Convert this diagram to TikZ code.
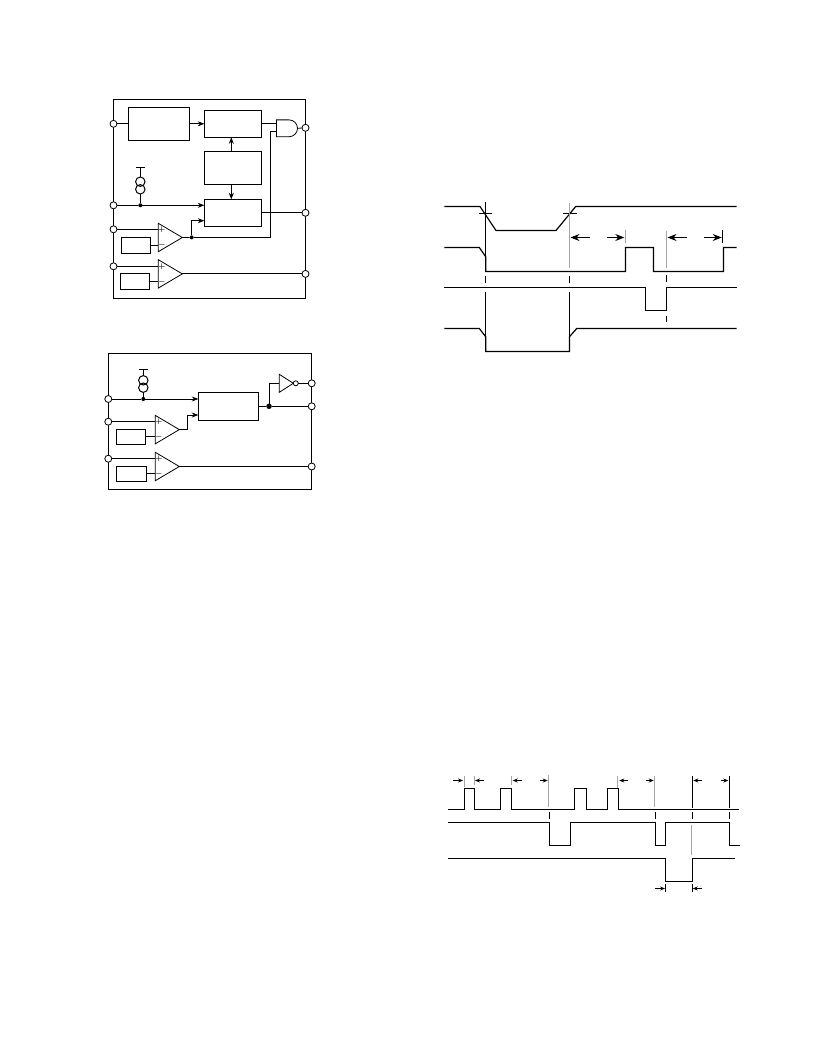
\documentclass[tikz,border=0pt]{standalone}
\usetikzlibrary{arrows.meta,shapes.geometric,shapes.gates.logic.US}
\begin{document}
\begin{tikzpicture}[x=1pt,y=-1pt,>={Stealth[length=6.5pt,width=5pt]},line width=0.8pt]
\tikzstyle{pin}=[draw,circle,fill=white,inner sep=0pt,minimum size=7pt,outer sep=0pt]
\tikzstyle{block}=[draw,rectangle,inner sep=0pt,outer sep=0pt]
\tikzstyle{amp}=[draw,isosceles triangle,isosceles triangle stretches,inner sep=0pt,outer sep=0pt,minimum width=28.4pt,minimum height=24pt,anchor=lower side]
\tikzstyle{dot}=[circle,fill=black,inner sep=0pt,outer sep=0pt,minimum size=4pt]
\tikzstyle{bigdot}=[circle,fill=black,inner sep=0pt,outer sep=0pt,minimum size=5.5pt]
\tikzstyle{src}=[draw,circle,inner sep=0pt,outer sep=0pt,minimum size=9.4pt,line width=1pt]
\tikzstyle{sign}=[inner sep=0pt,font=\fontsize{7}{7}\selectfont\boldmath]
\tikzstyle{wave}=[line width=1.2pt,line join=miter]
\tikzstyle{guide}=[line width=0.7pt]
\tikzstyle{guidegray}=[line width=0.9pt,gray!70]
\tikzstyle{bigtip}=[-{Stealth[length=9pt,width=7pt]}]
\tikzstyle{smalltip}=[-{Stealth[length=5pt,width=4pt]}]
\fill[white] (0,0) rectangle (816,1056);
\useasboundingbox (0,0) rectangle (816,1056);
% first block diagram
\draw (113.5,99.5) rectangle (305.5,298);
\node[block,minimum width=61pt,minimum height=33pt](timer) at (158.8,123.8) {};
\node[block,minimum width=57.4pt,minimum height=27pt](latch) at (233,123.8) {};
\node[block,minimum width=57.4pt,minimum height=33pt](logic) at (233,167.8) {};
\node[block,minimum width=57.4pt,minimum height=27pt](drv) at (233,212.8) {};
\node[block,minimum width=29.4pt,minimum height=16pt](refa) at (136,245.3) {};
\node[block,minimum width=29.4pt,minimum height=16pt](refb) at (135,281.3) {};
\node[amp](ampa) at (158.3,237.5) {};
\node[amp](ampb) at (158.3,273.9) {};
\node[sign](pa) at (161.8,230) {$+$};
\node[sign](ma) at (161.8,245) {$-$};
\node[sign](pb) at (161.8,266.3) {$+$};
\node[sign](mb) at (161.8,281.3) {$-$};
\node[draw,and gate US,logic gate inputs=nn,inner sep=0pt,outer sep=0pt,minimum width=19.4pt,minimum height=16pt](gate) at (286.3,128.3) {};
\node[src](srca) at (140.3,181.7) {};
\node[src](srcb) at (140.3,189.3) {};
\node[dot](ja) at (140.3,205.3) {};
\node[dot](jb) at (191.7,237.4) {};
\coordinate (bara) at (140.3,167.7);
\coordinate (bend) at (270.7,237.4);
\coordinate (drvin) at (204.3,220.7);
\node[pin](p1) at (113.5,123.8) {};
\node[pin](p2) at (113.5,205.3) {};
\node[pin](p3) at (113.5,229.3) {};
\node[pin](p4) at (113.5,266.3) {};
\node[pin](p5) at (305.5,127.8) {};
\node[pin](p6) at (305.5,212.8) {};
\node[pin](p7) at (305.5,273.9) {};
\draw (p1) -- (timer.west);
\draw[->] (timer.east) -- (latch.west);
\draw[->] ([xshift=-1.7pt]logic.north) -- ([xshift=-1.7pt]latch.south);
\draw[->] ([xshift=-1.7pt]logic.south) -- ([xshift=-1.7pt]drv.north);
\draw (latch.east) -- (latch.east -| gate.input 1);
\draw (gate.output) -- (p5);
\draw (bara) -- (srca);
\draw (srcb) -- (ja);
\draw ([xshift=-4.4pt]bara) -- ([xshift=4.4pt]bara);
\draw (p2) -- (ja);
\draw[->] (ja) -- (ja -| drv.west);
\draw (p3) -- (p3 -| ampa.lower side);
\draw (refa.east) -- (refa.east -| ampa.lower side);
\draw (p4) -- (p4 -| ampb.lower side);
\draw (refb.east) -- (refb.east -| ampb.lower side);
\draw (ampa.apex) -- (jb);
\draw[->] (jb) |- (drvin);
\draw (jb) -- (bend) |- (gate.input 2);
\draw (drv.east) -- (p6);
\draw (ampb.apex) -- (p7);
% second block diagram
\draw (108.3,353.7) rectangle (311.7,489);
\node[block,minimum width=60.4pt,minimum height=28pt](mono) at (228.5,406.3) {};
\node[block,minimum width=29.4pt,minimum height=15pt](refc) at (131,436.8) {};
\node[block,minimum width=30.4pt,minimum height=15pt](refd) at (131.5,473.8) {};
\node[amp](ampc) at (155.3,429.6) {};
\node[amp](ampd) at (155.3,466.5) {};
\node[sign](pc) at (158.8,422) {$+$};
\node[sign](mc) at (158.8,437) {$-$};
\node[sign](pd) at (158.8,459) {$+$};
\node[sign](md) at (158.8,474) {$-$};
\node[draw,isosceles triangle,isosceles triangle stretches,inner sep=0pt,outer sep=0pt,minimum width=18pt,minimum height=14pt,anchor=lower side](inv) at (279.3,383.3) {};
\node[draw,circle,fill=white,inner sep=0pt,outer sep=0pt,minimum size=5pt,anchor=west](bub) at (inv.apex) {};
\node[src](srcc) at (143.3,380.3) {};
\node[src](srcd) at (143.3,387.7) {};
\node[dot](jc) at (143.3,399) {};
\node[bigdot](jd) at (269,406.3) {};
\coordinate (barb) at (143.3,369.7);
\coordinate (monoin) at (198.3,415);
\coordinate (kink) at (187.3,429.6);
\node[pin](q1) at (108.3,399) {};
\node[pin](q2) at (108.3,421.7) {};
\node[pin](q3) at (108.3,458.7) {};
\node[pin](q4) at (311.7,383.3) {};
\node[pin](q5) at (311.7,406.3) {};
\node[pin](q6) at (311.7,466.5) {};
\draw (barb) -- (srcc);
\draw (srcd) -- (jc);
\draw ([xshift=-4.4pt]barb) -- ([xshift=4.4pt]barb);
\draw (q1) -- (jc);
\draw[->] (jc) -- (jc -| mono.west);
\draw (q2) -- (q2 -| ampc.lower side);
\draw (refc.east) -- (refc.east -| ampc.lower side);
\draw (q3) -- (q3 -| ampd.lower side);
\draw (refd.east) -- (refd.east -| ampd.lower side);
\draw (ampc.apex) -- (kink);
\draw[->] (kink) |- (monoin);
\draw (mono.east) -- (jd);
\draw (jd) -- (q5);
\draw (jd) |- (inv.lower side);
\draw (bub) -- (q4);
\draw (ampd.apex) -- (q6);
% upper timing diagram
\draw[wave] (444.3,206.5) -- (480,206.5) -- (496,230.5) -- (556,230.5) -- (575.7,206.5) -- (736.7,206.5);
\draw[wave] (444.3,247.5) -- (479.3,247.5) -- (485.7,256.7) -- (485.7,271.5) -- (625.5,271.5) -- (625.5,247.5) -- (653.5,247.5) -- (653.5,271.5) -- (723.5,271.5) -- (723.5,247.5) -- (736.7,247.5);
\draw[wave] (444.3,287.5) -- (645.5,287.5) -- (645.5,310.5) -- (666.5,310.5) -- (666.5,287.5) -- (736.7,287.5);
\draw[wave] (444.3,328.5) -- (479.3,328.5) -- (485.7,336.7) -- (485.7,351.5) -- (569.5,351.5) -- (569.5,336.7) -- (576.7,328.5) -- (736.7,328.5);
\draw[guide] (479,213.5) -- (492.3,213.5);
\draw[guide] (563.3,213.5) -- (576.7,213.5);
\draw[guide] (485.5,202.3) -- (485.5,256);
\draw[guide] (485.5,275.7) -- (485.5,283.3);
\draw[guide] (485.5,291.7) -- (485.5,337);
\draw[guidegray] (569.5,203.3) -- (569.5,267.7);
\draw[guide] (569.5,275.7) -- (569.5,283.3);
\draw[guide] (569.5,292.3) -- (569.5,337);
\draw[guidegray] (625.5,230) -- (625.5,243.3);
\draw[guidegray] (666.5,231) -- (666.5,267.7);
\draw[guide] (666.5,275) -- (666.5,282.3);
\draw[guide] (666.5,315.7) -- (666.5,321.7);
\draw[guide] (722.5,230) -- (722.5,243.3);
\draw[bigtip] (590,237.5) -- (570.5,237.5);
\draw[bigtip] (607.3,237.5) -- (624.3,237.5);
\draw[bigtip] (686.7,237.5) -- (667.5,237.5);
\draw[bigtip] (704.3,237.5) -- (721.7,237.5);
% lower timing diagram
\draw[wave] (447.7,809.5) -- (464.5,809.5) -- (464.5,788.5) -- (474.5,788.5) -- (474.5,809.5) -- (500.5,809.5) -- (500.5,788.5) -- (511.5,788.5) -- (511.5,809.5) -- (574.5,809.5) -- (574.5,788.5) -- (586.5,788.5) -- (586.5,809.5) -- (607.5,809.5) -- (607.5,788.5) -- (618.5,788.5) -- (618.5,809.5) -- (739,809.5);
\draw[wave] (447.7,822.5) -- (549.5,822.5) -- (549.5,845.5) -- (570.5,845.5) -- (570.5,822.5) -- (655.5,822.5) -- (655.5,845.5) -- (665.5,845.5) -- (665.5,822.5) -- (729.5,822.5) -- (729.5,845.5) -- (740,845.5);
\draw[wave] (447.7,858.5) -- (665.5,858.5) -- (665.5,881.5) -- (692.5,881.5) -- (692.5,858.5) -- (735,858.5);
\draw[guidegray] (464.5,776) -- (464.5,787);
\draw[guidegray] (474.5,776) -- (474.5,785);
\draw[guidegray] (511.5,776) -- (511.5,785);
\draw[guidegray] (548.5,775) -- (548.5,806.7);
\draw[guidegray] (617.5,776) -- (617.5,788);
\draw[guidegray] (654.5,776) -- (654.5,806.7);
\draw[guide] (692.5,776) -- (692.5,808);
\draw[guide] (729.5,776) -- (729.5,807.5);
\draw[guide] (549.5,812.3) -- (549.5,819.3);
\draw[guide] (655.5,812.3) -- (655.5,819.3);
\draw[guide] (692.5,812.3) -- (692.5,819.3);
\draw[guide] (729.5,812.3) -- (729.5,819.3);
\draw[guidegray] (691.5,825) -- (691.5,855);
\draw[guide] (665.5,884.3) -- (665.5,892.3);
\draw[guide] (692.5,884.3) -- (692.5,892.3);
\draw[smalltip] (453.3,780.5) -- (463,780.5);
\draw[smalltip] (484.3,780.5) -- (475,780.5);
\draw[smalltip] (522.3,780.5) -- (512.7,780.5);
\draw[smalltip] (540,780.5) -- (547.7,780.5);
\draw[smalltip] (628.3,780.5) -- (619.3,780.5);
\draw[smalltip] (645.7,780.5) -- (653.7,780.5);
\draw[smalltip] (702.3,780.5) -- (693.3,780.5);
\draw[smalltip] (720.7,780.5) -- (728.3,780.5);
\draw[smalltip] (655,888.5) -- (665,888.5);
\draw[smalltip] (702.3,888.5) -- (692.7,888.5);
\end{tikzpicture}
\end{document}
